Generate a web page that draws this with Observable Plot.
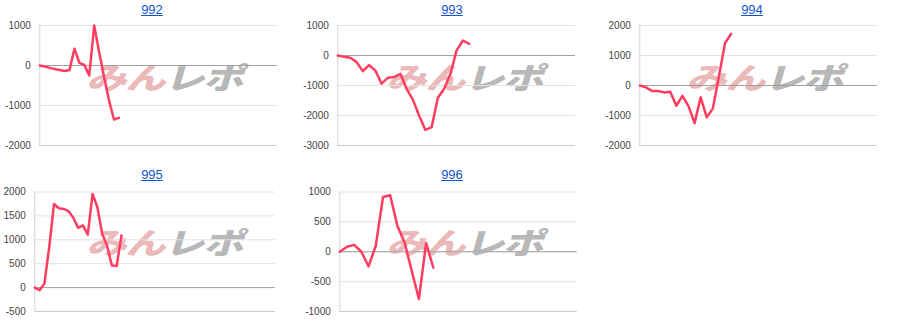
<!DOCTYPE html>
<html><head><meta charset="utf-8">
<script src="https://cdn.jsdelivr.net/npm/d3@7"></script>
<script src="https://cdn.jsdelivr.net/npm/@observablehq/plot@0.6"></script>
<style>
body{margin:0;background:#fff;font-family:Arial,"Liberation Sans",sans-serif;}
#root{position:relative;width:900px;height:332px;overflow:hidden;}
.cell{position:absolute;width:300px;height:165px;}
.title{position:absolute;left:2px;width:300px;top:2.5px;text-align:center;font-size:13px;line-height:13px;z-index:3;}
.title a{color:#1155cc;text-decoration:underline;}
.wm{position:absolute;left:90px;top:56px;white-space:nowrap;font-family:"Noto Sans CJK JP",sans-serif;font-weight:900;font-size:33px;line-height:40px;transform-origin:0 50%;transform:skewX(-16deg) scale(1.22,0.9);letter-spacing:-1px;z-index:1;}
.wm .a{color:#ebb9b9;}
.wm .b{color:#b8b8b8;}
.cell svg{position:absolute;left:0;top:0;z-index:2;}
</style>
</head><body>
<div id="root"></div>
<script>
// ---- data ----
const titles = ["992", "993", "994", "995", "996"];
const s992 = [0, -25, -60, -90, -115, -140, -115, 420, 65, 15, -250, 1000, 330, -290, -875, -1350, -1310];
const s993 = [0, -45, -78, -220, -520, -320, -500, -940, -745, -720, -610, -1110, -1470, -2000, -2480, -2390, -1410, -1110, -620, 170, 500, 390];
const s994 = [0, -60, -180, -185, -230, -205, -675, -345, -690, -1255, -395, -1060, -770, 310, 1410, 1720];
const s995 = [0, -55, 85, 850, 1750, 1660, 1645, 1600, 1460, 1250, 1300, 1110, 1960, 1680, 1125, 880, 465, 450, 1090];
const s996 = [0, 85, 115, 0, -245, 100, 915, 945, 435, 155, -320, -790, 145, -265];
const xMax = [48, 38, 39, 50, 33];
const yDomains = [[-2000, 1000], [-3000, 1000], [-2000, 2000], [-500, 2000], [-1000, 1000]];
const yTicks = [
  [-2000, -1000, 0, 1000],
  [-3000, -2000, -1000, 0, 1000],
  [-2000, -1000, 0, 1000, 2000],
  [-500, 0, 500, 1000, 1500, 2000],
  [-1000, -500, 0, 500, 1000]
];
const series = [s992, s993, s994, s995, s996];

// ---- layout ----
const marginsL = [39.3, 37.3, 39.3, 34.3, 39.3];
const marginsR = [23.3, 25, 23.3, 25, 23.3];
const root = document.getElementById("root");

series.forEach((vals, i) => {
  const col = i % 3, row = Math.floor(i / 3);
  const cell = document.createElement("div");
  cell.className = "cell";
  cell.style.left = (col * 300) + "px";
  cell.style.top = (row * 165) + "px";
  const t = document.createElement("div");
  t.className = "title";
  const a = document.createElement("a");
  a.href = "#";
  a.textContent = titles[i];
  t.appendChild(a);
  cell.appendChild(t);
  const wm = document.createElement("div");
  wm.className = "wm";
  wm.innerHTML = '<span class="a">みん</span><span class="b">レポ</span>';
  cell.appendChild(wm);

  const data = vals.map((v, k) => ({x: k, y: v}));
  const mt = row === 0 ? 25 : 26.5;
  const mb = row === 0 ? 20 : 19;
  const chart = Plot.plot({
    width: 300,
    height: 165,
    marginLeft: marginsL[i],
    marginRight: marginsR[i],
    marginTop: mt,
    marginBottom: mb,
    x: {domain: [0, xMax[i]], axis: null},
    y: {domain: yDomains[i], axis: null},
    style: {fontFamily: "Arial, 'Liberation Sans', sans-serif", background: "transparent", overflow: "visible"},
    marks: [
      Plot.gridY(yTicks[i], {stroke: "#e2e2e2", strokeOpacity: 1}),
      Plot.ruleY([yDomains[i][0]], {stroke: "#cccccc"}),
      Plot.ruleX([0], {stroke: "#d4d4d4"}),
      Plot.ruleY([0], {stroke: "#a0a0a0"}),
      Plot.line(data, {x: "x", y: "y", stroke: "#ff3d60", strokeWidth: 2.5, strokeLinejoin: "round"}),
      Plot.axisY(yTicks[i], {tickSize: 0, tickPadding: 9, fontSize: 10, fill: "#444", label: null, tickFormat: d => String(d)})
    ]
  });
  cell.appendChild(chart);
  root.appendChild(cell);
});
</script>
</body></html>
